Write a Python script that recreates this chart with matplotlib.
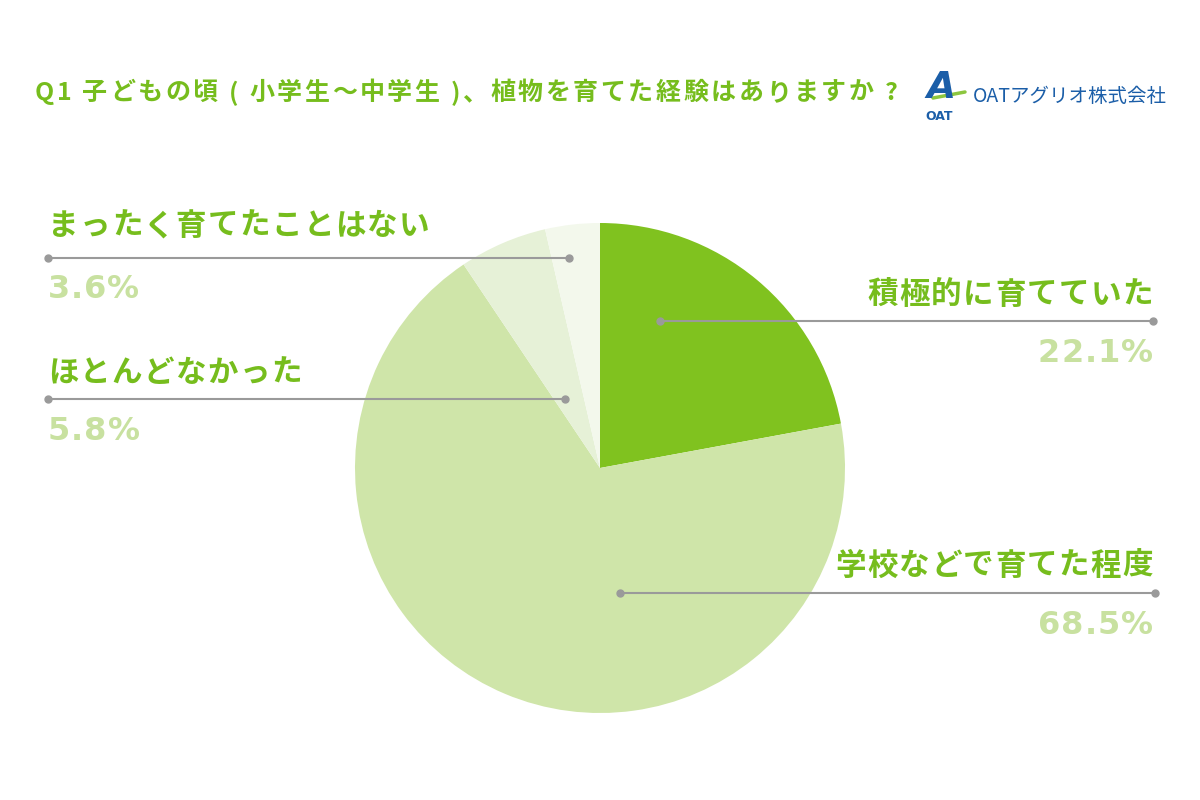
import matplotlib.pyplot as plt

plt.rcParams['font.family'] = ['Noto Sans CJK JP', 'DejaVu Sans']

# survey answers, clockwise from 12 o'clock
labels = ['積極的に育てていた', '学校などで育てた程度', 'ほとんどなかった', 'まったく育てたことはない']
values = [22.1, 68.5, 5.8, 3.6]
colors = ['#80c21f', '#cfe5a9', '#e6f1d7', '#f3f8ec']

title = 'Q1 子どもの頃 ( 小学生〜中学生 )、植物を育てた経験はありますか ?'
green = '#76bd1d'
pct_color = '#c8e1a0'
line_color = '#9a9a9a'

# label layout (pixel coords): text x, text y, line y, line x0, line x1, align
layout = [
    (1153, 295, 321, 660, 1153, 'right'),
    (1153, 566, 593, 620, 1155, 'right'),
    (48, 373, 399, 48, 565, 'left'),
    (48, 226, 258, 48, 569, 'left'),
]

fig = plt.figure(figsize=(12, 8), dpi=100)
ax = fig.add_axes([0, 0, 1, 1])

ax.pie(values, colors=colors, startangle=-90, counterclock=True,
       center=(600, 468), radius=245,
       wedgeprops=dict(linewidth=0))

# pie() resets the limits, so pin the axes to pixel coords afterwards
ax.set_xlim(0, 1200)
ax.set_ylim(800, 0)
ax.set_aspect('equal')
ax.axis('off')
renderer = fig.canvas.get_renderer()


def spaced_text(x, y, s, spacing, ha='left', **kw):
    '''draws a string char by char with extra letter spacing (1 unit = 1 px)'''
    arts = []
    pos = 0
    for ch in s:
        t = ax.text(pos, y, ch, ha='left', va='center', **kw)
        w = t.get_window_extent(renderer).width
        arts.append((t, pos))
        pos += w + spacing
    total = pos - spacing
    start = x - total if ha == 'right' else x
    for t, p in arts:
        t.set_x(start + p)


for lab, val, (tx, ty, ly, x0, x1, ha) in zip(labels, values, layout):
    spaced_text(tx, ty, lab, 1.4, ha=ha, fontsize=22,
                fontweight='bold', color=green)
    ax.plot([x0, x1], [ly, ly], color=line_color, lw=1.5,
            marker='o', markersize=5, zorder=5)
    spaced_text(tx, ly + 32, '{:.1f}%'.format(val), 1, ha=ha,
                fontsize=23, fontweight='bold', color=pct_color,
                family=['DejaVu Sans'])

spaced_text(35, 93, title, 2.6, fontsize=18, fontweight='bold', color=green)

# logo
ax.text(941, 88, 'A', ha='center', va='center', fontsize=27,
        fontweight='bold', style='italic', color='#1b5ea8',
        family=['DejaVu Sans'])
ax.plot([933, 965], [98, 92], color='#8cc63f', lw=2.5, solid_capstyle='round')
ax.text(939, 116, 'OAT', ha='center', va='center', fontsize=9,
        fontweight='bold', color='#1b5ea8', family=['DejaVu Sans'])
ax.text(973, 96, 'OATアグリオ株式会社', ha='left', va='center',
        fontsize=14, color='#1b5ea8')

fig.savefig('out.png', dpi=100, facecolor='white')
